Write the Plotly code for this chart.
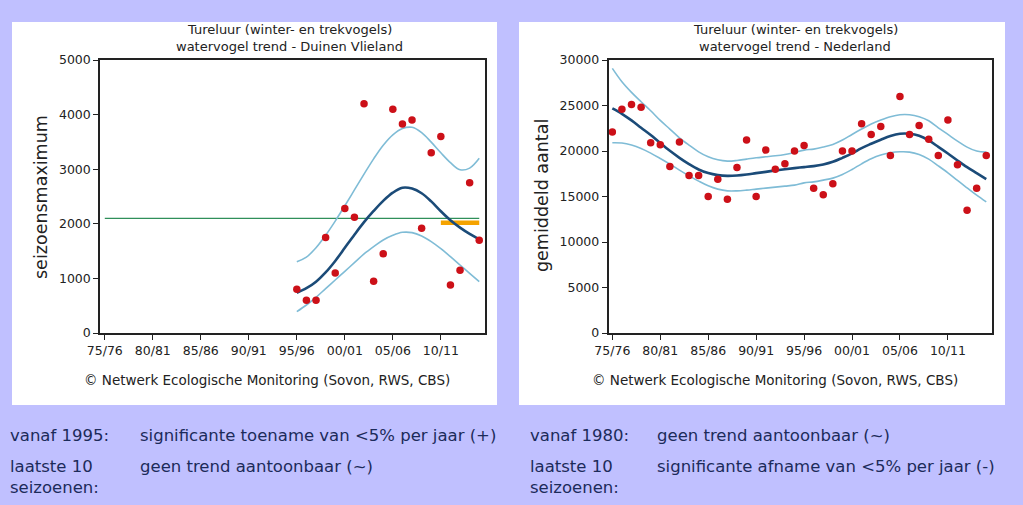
import plotly.graph_objects as go

# ---------------- data ----------------
tick_vals = [0, 5, 10, 15, 20, 25, 30, 35]
tick_text = ["75/76", "80/81", "85/86", "90/91", "95/96", "00/01", "05/06", "10/11"]

# Left: Duinen Vlieland (seizoensmaximum), seasons 1995/96 .. 2014/15 (index = year - 1975)
vl_x = list(range(20, 40))
vl_counts = [800, 600, 600, 1750, 1100, 2280, 2120, 4200, 950, 1450,
             4100, 3830, 3900, 1920, 3300, 3600, 880, 1150, 2750, 1700]
vl_trend = [738, 820, 940, 1110, 1320, 1560, 1800, 2030, 2235, 2420,
            2570, 2660, 2645, 2560, 2410, 2230, 2065, 1930, 1815, 1716]
vl_upper = [1306, 1390, 1560, 1790, 2050, 2330, 2620, 2910, 3190, 3440,
            3630, 3745, 3767, 3670, 3495, 3300, 3120, 2990, 3020, 3200]
vl_lower = [391, 513, 653, 812, 971, 1130, 1288, 1447, 1581, 1703,
            1789, 1844, 1838, 1777, 1673, 1544, 1398, 1245, 1093, 940]
vl_ref_x = [0, 39]
vl_ref_y = [2100, 2100]
vl_recent_x = [35, 39]
vl_recent_y = [2020, 2020]

# Right: Nederland (gemiddeld aantal), seasons 1975/76 .. 2014/15
nl_x = list(range(0, 40))
nl_counts = [22100, 24600, 25100, 24800, 20900, 20700, 18300, 21000, 17300, 17300,
             15000, 16900, 14700, 18200, 21200, 15000, 20100, 18000, 18600, 20000,
             20600, 15900, 15200, 16400, 20000, 20000, 23000, 21800, 22700, 19500,
             26000, 21800, 22800, 21300, 19500, 23400, 18500, 13500, 15900, 19500]
nl_trend = [24680, 24090, 23360, 22550, 21750, 20870, 20020, 19250, 18560, 17970,
            17570, 17350, 17270, 17310, 17420, 17570, 17710, 17860, 18000, 18120,
            18230, 18340, 18520, 18810, 19250, 19730, 20320, 20790, 21230, 21640,
            21890, 21890, 21670, 21160, 20460, 19730, 18960, 18230, 17570, 16910]
nl_upper = [29080, 27610, 26440, 25410, 24420, 23360, 22410, 21450, 20650, 19910,
            19360, 19030, 18890, 18960, 19110, 19250, 19360, 19470, 19620, 19840,
            20100, 20210, 20430, 20720, 21200, 21820, 22410, 22960, 23400, 23760,
            23980, 23980, 23760, 23320, 22550, 21820, 21090, 20430, 19990, 19880]
nl_lower = [20900, 20870, 20650, 20280, 19770, 19180, 18560, 17900, 17270, 16690,
            16170, 15810, 15620, 15620, 15700, 15810, 15920, 16030, 16140, 16250,
            16500, 16610, 16800, 17020, 17420, 17970, 18590, 19140, 19550, 19800,
            19910, 19880, 19620, 19110, 18370, 17600, 16760, 15950, 15150, 14410]

# ---------------- styling ----------------
W, H = 1023, 505
BG = "#c0c0ff"
FONT = "DejaVu Sans"
DARK = "#1b4b78"
LIGHT = "#7fbcd6"
RED = "#cc1018"
TXT = "#1c2b5a"

def px(xp):
    return xp / W

def py(yp):
    return 1 - yp / H

fig = go.Figure()

def add_panel(xa, ya, x, counts, trend, upper, lower):
    for yy in (upper, lower):
        fig.add_trace(go.Scatter(x=x, y=yy, mode="lines", xaxis=xa, yaxis=ya,
                                 line=dict(color=LIGHT, width=1.6, shape="spline"),
                                 hoverinfo="skip", showlegend=False))
    fig.add_trace(go.Scatter(x=x, y=trend, mode="lines", xaxis=xa, yaxis=ya,
                             line=dict(color=DARK, width=2.6, shape="spline"),
                             showlegend=False))
    fig.add_trace(go.Scatter(x=x, y=counts, mode="markers", xaxis=xa, yaxis=ya,
                             marker=dict(color=RED, size=7.5), showlegend=False))

# left reference lines
fig.add_trace(go.Scatter(x=vl_ref_x, y=vl_ref_y, mode="lines", xaxis="x", yaxis="y",
                         line=dict(color="#2f8f5a", width=1.3), showlegend=False))
fig.add_trace(go.Scatter(x=vl_recent_x, y=vl_recent_y, mode="lines", xaxis="x", yaxis="y",
                         line=dict(color="#f5a300", width=4.5), showlegend=False))
add_panel("x", "y", vl_x, vl_counts, vl_trend, vl_upper, vl_lower)
add_panel("x2", "y2", nl_x, nl_counts, nl_trend, nl_upper, nl_lower)

ax_common = dict(showgrid=False, zeroline=False, showline=True, linecolor="#222",
                 linewidth=1.5, mirror=True, ticks="outside", ticklen=5,
                 tickcolor="#222", tickwidth=1, automargin=False,
                 tickfont=dict(family=FONT, size=12.5, color="#222"))

fig.update_layout(
    width=W, height=H, margin=dict(l=0, r=0, t=0, b=0, pad=0, autoexpand=False),
    paper_bgcolor=BG, plot_bgcolor="white", showlegend=False,
    xaxis=dict(domain=[px(100), px(485)], range=[-0.5, 39.6], anchor="y",
               tickvals=tick_vals, ticktext=tick_text, **ax_common),
    yaxis=dict(domain=[py(333), py(60)], range=[0, 5000], anchor="x",
               tickvals=[0, 1000, 2000, 3000, 4000, 5000], tickformat="d", **ax_common),
    xaxis2=dict(domain=[px(608.5), px(992)], range=[-0.4, 39.6], anchor="y2",
                tickvals=tick_vals, ticktext=tick_text, **ax_common),
    yaxis2=dict(domain=[py(333), py(60)], range=[0, 30000], anchor="x2",
                tickvals=[0, 5000, 10000, 15000, 20000, 25000, 30000], tickformat="d",
                **ax_common),
)

# white panels
for x0, x1 in ((12, 497), (519, 1005)):
    fig.add_shape(type="rect", xref="paper", yref="paper", x0=px(x0), x1=px(x1),
                  y0=py(405), y1=py(22), fillcolor="white", line=dict(width=0),
                  layer="below")

def ann(text, x, y, size, color="#222", xanchor="center", angle=0):
    fig.add_annotation(text=text, xref="paper", yref="paper", x=px(x), y=py(y),
                       xanchor=xanchor, yanchor="middle", showarrow=False,
                       textangle=angle, font=dict(family=FONT, size=size, color=color))

# chart titles
ann("Tureluur (winter- en trekvogels)", 289, 29, 13)
ann("watervogel trend - Duinen Vlieland", 289, 47, 13)
ann("Tureluur (winter- en trekvogels)", 795, 29, 13)
ann("watervogel trend - Nederland", 795, 47, 13)

# y-axis titles
ann("seizoensmaximum", 41, 197, 17.5, angle=-90)
ann("gemiddeld aantal", 542, 196, 17.5, angle=-90)

# copyright lines
cr = "© Netwerk Ecologische Monitoring (Sovon, RWS, CBS)"
ann(cr, 267, 380, 13.5)
ann(cr, 775, 380, 13.5)

# text below the charts
TS = 16.5
ann("vanaf 1995:", 8, 435, TS, TXT, "left")
ann("significante toename van &lt;5% per jaar (+)", 138, 435, TS, TXT, "left")
ann("laatste 10", 8, 466, TS, TXT, "left")
ann("seizoenen:", 8, 487, TS, TXT, "left")
ann("geen trend aantoonbaar (~)", 138, 466, TS, TXT, "left")
ann("vanaf 1980:", 528, 435, TS, TXT, "left")
ann("geen trend aantoonbaar (~)", 655, 435, TS, TXT, "left")
ann("laatste 10", 528, 466, TS, TXT, "left")
ann("seizoenen:", 528, 487, TS, TXT, "left")
ann("significante afname van &lt;5% per jaar (-)", 655, 466, TS, TXT, "left")

fig.write_html(
    "out.html",
    config={"displayModeBar": False},
    post_script="document.body.style.margin='0';document.body.style.padding='0';"
                "document.body.style.background='#c0c0ff';"
                "document.documentElement.style.overflow='hidden';",
)
